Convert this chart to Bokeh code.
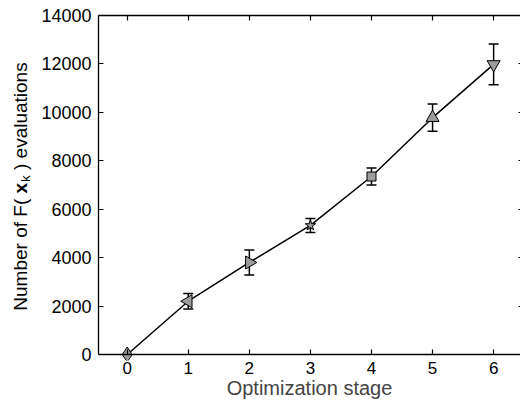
import math
from bokeh.plotting import figure
from bokeh.layouts import row
from bokeh.models import (ColumnDataSource, Whisker, TeeHead, LinearAxis,
                          FixedTicker, Range1d)
from bokeh.core.properties import value
from bokeh.embed import file_html
from bokeh.resources import INLINE

# ---- data ----
stages = [0, 1, 2, 3, 4, 5, 6]
evaluations = [0, 2200, 3800, 5330, 7350, 9780, 11980]
errors = [0, 320, 520, 290, 350, 560, 840]
markers = ["diamond", "triangle", "triangle", "star", "square", "triangle", "inverted_triangle"]
marker_angles = [0, math.pi / 2, -math.pi / 2, 0, 0, 0, 0]
marker_sizes = [15, 13, 13, 11, 9, 13, 13]
x_ticks = [0, 1, 2, 3, 4, 5, 6]
y_ticks = [0, 2000, 4000, 6000, 8000, 10000, 12000, 14000]
x_label = "Optimization stage"
y_label_parts = ["Number of F(", "x", "k", ") evaluations"]

FONT = "Liberation Sans"
W, H = 520, 404
LW = 38  # width of the strip holding the y-axis title
TOP = 15
Y_AX, Y_END = 0, 14000
PER_PX = (Y_END - Y_AX) / 339.0     # data units per pixel
GAP = 6                              # px of room below the x axis line
Y0 = Y_AX - GAP * PER_PX
BOTTOM = 50 - GAP

p = figure(width=W - LW, height=H, output_backend="svg", toolbar_location=None,
           x_range=Range1d(-0.47, 6.44), y_range=Range1d(Y0, Y_END),
           min_border_left=95 - LW, min_border_right=0,
           min_border_top=TOP, min_border_bottom=BOTTOM,
           x_axis_location=None, y_axis_location=None)
p.grid.visible = False
p.outline_line_color = None
p.background_fill_color = "white"
p.border_fill_color = "white"


def style_axis(ax, fs="17px", show_labels=True):
    ax.axis_line_color = "black"
    ax.axis_line_width = 1.3
    ax.major_tick_line_color = "black"
    ax.major_tick_line_width = 1.2
    ax.major_tick_in = 5
    ax.major_tick_out = 0
    ax.minor_tick_line_color = None
    ax.major_label_text_font = FONT
    ax.major_label_text_font_size = fs
    ax.major_label_text_color = "black"
    if not show_labels:
        ax.major_label_text_color = None
        ax.major_label_text_font_size = "1px"
        ax.major_label_standoff = 0


# x axis line and ticks at y = 0
xline = LinearAxis(ticker=FixedTicker(ticks=x_ticks), fixed_location=Y_AX)
style_axis(xline, show_labels=False)
p.add_layout(xline, "below")

# x tick labels and title in the bottom panel
xb = LinearAxis(ticker=FixedTicker(ticks=x_ticks), axis_label=x_label)
style_axis(xb, "17px")
xb.axis_line_color = None
xb.major_tick_line_color = None
xb.major_label_standoff = 1
xb.axis_label_text_font = FONT
xb.axis_label_text_font_size = "20px"
xb.axis_label_text_font_style = "normal"
xb.axis_label_standoff = 0
p.add_layout(xb, "below")

xt = LinearAxis(ticker=FixedTicker(ticks=x_ticks))
style_axis(xt, show_labels=False)
p.add_layout(xt, "above")

yl = LinearAxis(ticker=FixedTicker(ticks=y_ticks), bounds=(Y_AX, Y_END))
style_axis(yl, "18px")
yl.major_label_standoff = 7
p.add_layout(yl, "left")

yr = LinearAxis(ticker=FixedTicker(ticks=y_ticks), bounds=(Y_AX, Y_END))
style_axis(yr, show_labels=False)
yr.axis_line_color = None
yr.major_tick_in = 2
p.add_layout(yr, "right")

src = ColumnDataSource(dict(x=stages, y=evaluations, m=markers, a=marker_angles, s=marker_sizes))
p.line("x", "y", source=src, line_color="black", line_width=1.5)
p.scatter("x", "y", source=src, marker="m", angle="a", size="s",
          fill_color="#9c9c9c", line_color="black", line_width=1)

wx = [x for x, e in zip(stages, errors) if e > 0]
wlo = [v - e for v, e in zip(evaluations, errors) if e > 0]
whi = [v + e for v, e in zip(evaluations, errors) if e > 0]
wsrc = ColumnDataSource(dict(base=wx, lower=wlo, upper=whi))
p.add_layout(Whisker(source=wsrc, base="base", lower="lower", upper="upper",
                     line_color="black", line_width=1.5,
                     upper_head=TeeHead(size=10, line_color="black", line_width=1.5),
                     lower_head=TeeHead(size=10, line_color="black", line_width=1.5)))

# ---- y-axis title strip, sharing the main frame's vertical scale ----
lab = figure(width=LW, height=H, output_backend="svg", toolbar_location=None,
             x_range=Range1d(0, LW), y_range=p.y_range,
             min_border_left=0, min_border_right=0,
             min_border_top=TOP, min_border_bottom=BOTTOM,
             x_axis_location=None, y_axis_location=None)
lab.grid.visible = False
lab.outline_line_color = None
lab.border_fill_color = "white"
lab.background_fill_color = "white"

F = 19
SP = 0.278 * F
w1 = 5.89 * F + SP          # "Number of F(" + space
w2 = 0.556 * F + 0.05 * F   # bold x
w3 = 0.5 * 0.7 * F + SP     # subscript k + space
total = w1 + w2 + w3 + 5.67 * F
center_px = 354 - 186                  # px above the x axis line
start_px = center_px - total / 2
bx = 20
pieces = [
    (y_label_parts[0], start_px, bx, F, "normal"),
    (y_label_parts[1], start_px + w1, bx, F, "bold"),
    (y_label_parts[2], start_px + w1 + w2, bx + 5, 0.7 * F, "normal"),
    (y_label_parts[3], start_px + w1 + w2 + w3, bx, F, "normal"),
]
for txt, ypx, xx, fs, st in pieces:
    lab.text(x=[xx], y=[Y_AX + ypx * PER_PX], text=[txt], angle=math.pi / 2,
             text_align=value("left"), text_baseline=value("alphabetic"),
             text_font=value(FONT), text_font_size=value(f"{fs:.1f}px"),
             text_font_style=value(st), text_color="black")

layout = row(lab, p, spacing=0)
open("out.html", "w").write(file_html(layout, INLINE))
